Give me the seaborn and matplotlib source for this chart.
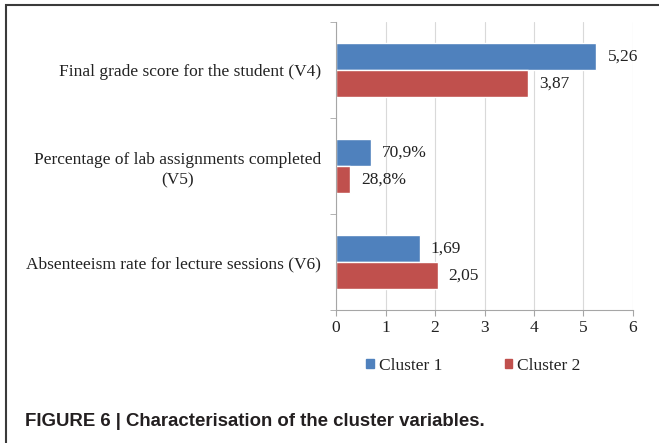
import pandas as pd
import matplotlib
matplotlib.use("Agg")
import matplotlib.pyplot as plt
import matplotlib.patches as mpatches
import seaborn as sns


# Data

categories = [
    "Final grade score for the student (V4)",
    "Percentage of lab assignments completed\n(V5)",
    "Absenteeism rate for lecture sessions (V6)",
]
clusters = ["Cluster 1", "Cluster 2"]
cluster1_values = [5.26, 0.709, 1.69]
cluster2_values = [3.87, 0.288, 2.05]
cluster1_labels = ["5,26", "70,9%", "1,69"]
cluster2_labels = ["3,87", "28,8%", "2,05"]
x_ticks = [0, 1, 2, 3, 4, 5, 6]
caption = "FIGURE 6 | Characterisation of the cluster variables."

colors = {"Cluster 1": "#4F81BD", "Cluster 2": "#C0504D"}

df = pd.DataFrame({
    "variable": categories * 2,
    "cluster": [clusters[0]] * 3 + [clusters[1]] * 3,
    "value": cluster1_values + cluster2_values,
    "label": cluster1_labels + cluster2_labels,
})


# Plot

sns.set_style("white")
plt.rcParams["font.family"] = ["Liberation Serif", "DejaVu Serif"]
FS = 12.5

fig = plt.figure(figsize=(6.59, 4.43), dpi=100)
ax = fig.add_axes([0.51, 0.3002, 0.4505, 0.650])

sns.barplot(data=df, y="variable", x="value", hue="cluster", palette=colors,
            orient="h", width=0.57, ax=ax, legend=False, saturation=1)

for container, labels in zip(ax.containers, [cluster1_labels, cluster2_labels]):
    ax.bar_label(container, labels=labels, padding=8, fontsize=FS, color="#222222")

ax.set_xlim(0, 6)
ax.set_xticks(x_ticks)
ax.set_xlabel("")
ax.set_ylabel("")
ax.xaxis.grid(True, color="#d9d9d9", linewidth=0.8)
ax.set_axisbelow(True)

for side in ["top", "right"]:
    ax.spines[side].set_visible(False)
for side in ["left", "bottom"]:
    ax.spines[side].set_color("#a6a6a6")

ax.tick_params(axis="x", length=4, color="#a6a6a6", labelsize=FS, pad=3,
               direction="out", bottom=True, labelcolor="#222222")
ax.tick_params(axis="y", which="major", length=0, labelsize=FS, pad=11, labelcolor="#222222")
# category boundary ticks on the left spine
ax.set_yticks([-0.5, 0.5, 1.5, 2.5], minor=True)
ax.tick_params(axis="y", which="minor", length=4, color="#a6a6a6", left=True)
for lbl in ax.get_yticklabels():
    lbl.set_multialignment("center")
    lbl.set_linespacing(1.4)

handles = [mpatches.Patch(color=colors[c], label=c) for c in clusters]
fig.legend(handles=handles, loc="center", bbox_to_anchor=(0.7185, 0.174), ncol=2,
           frameon=False, fontsize=FS, handlelength=0.42, handleheight=0.42,
           handletextpad=0.3, columnspacing=3.6, labelcolor="#222222")

fig.text(25 / 659, 21 / 443, caption, fontsize=13.4, fontweight="bold",
         family=["Liberation Sans", "DejaVu Sans"], color="#231f20", va="center")

fig.patches.append(mpatches.Rectangle((6 / 659, -0.02), 1.0, 1.009,
                                      transform=fig.transFigure, fill=False,
                                      edgecolor="#3a3a3a", linewidth=1.5))

fig.savefig("out.png", dpi=100)
